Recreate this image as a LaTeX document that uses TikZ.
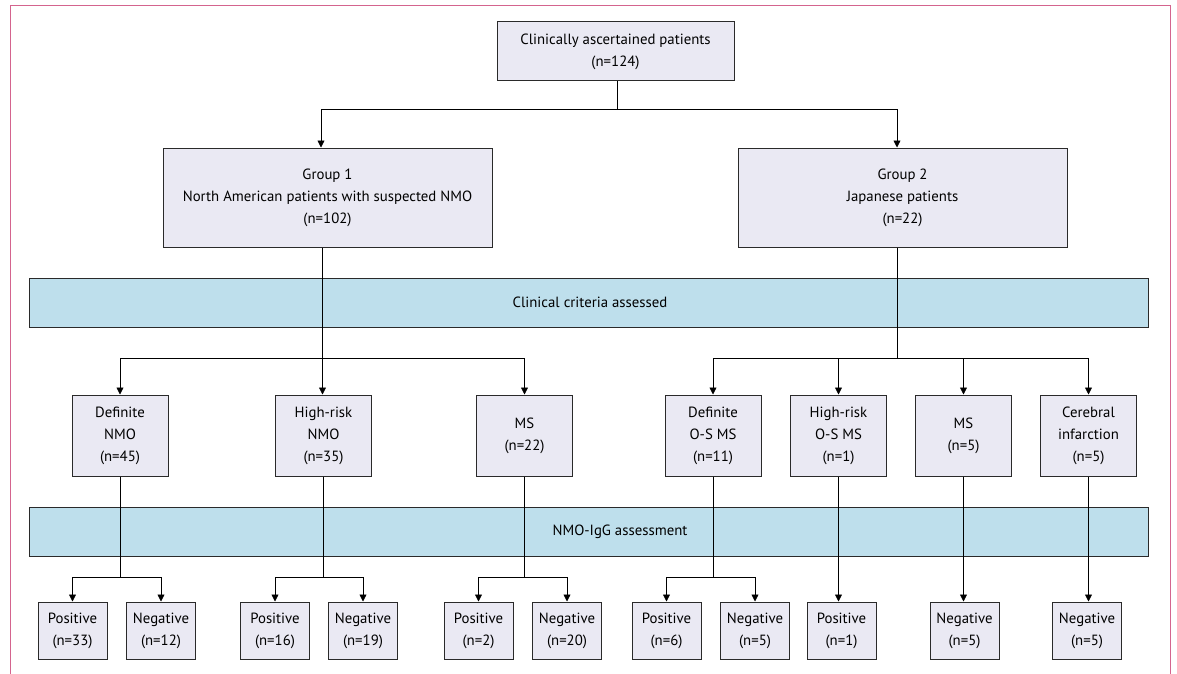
\documentclass[tikz,border=0pt]{standalone}
\usepackage{fontspec}
\setmainfont{PT Sans}
\usetikzlibrary{arrows.meta}
\definecolor{boxfill}{HTML}{EAE9F3}
\definecolor{bandfill}{HTML}{BEDFEC}
\definecolor{framecol}{HTML}{D4648E}
\definecolor{edgecol}{HTML}{2A2A2A}
\begin{document}
\begin{tikzpicture}[x=1pt,y=-1pt,
  box/.style={draw=edgecol,fill=boxfill,line width=1pt,inner sep=0pt,align=center,font=\fontsize{14.8}{22}\selectfont},
  band/.style={draw=edgecol,fill=bandfill,line width=1pt,inner sep=0pt,minimum width=1119,minimum height=49},
  conn/.style={draw=black,line width=0.8pt},
  arr/.style={conn,-{Triangle[width=7pt,length=7pt]}},
  lab/.style={font=\fontsize{14.8}{16}\selectfont,inner sep=0pt},
  gbox/.style={box,minimum width=329,minimum height=99},
  mbox/.style={box,minimum width=96,minimum height=81},
  sbox/.style={box,minimum width=69,minimum height=57}]
\useasboundingbox (0,0) rectangle (1177,674);
\draw[framecol,line width=1pt] (10,674) -- (10,6) -- (1170.5,6) -- (1170.5,674);

% bands
\node[band] (band1) at (588.5,302.5) {};
\node[lab] (band1t) at (590,302.5) {Clinical criteria assessed};
\node[band] (band2) at (588.5,531.5) {};
\node[lab] (band2t) at (620,531.5) {NMO-IgG assessment};

% top levels
\node[box,minimum width=237,minimum height=59] (top) at (615.5,51.5) {Clinically ascertained patients\\(n=124)};
\node[gbox] (g1) at (327.5,197.5) {Group 1\\North American patients with suspected NMO\\(n=102)};
\node[gbox] (g2) at (902.5,197.5) {Group 2\\Japanese patients\\(n=22)};

% middle level
\node[mbox] (dnmo) at (120,435.5) {Definite\\NMO\\(n=45)};
\node[mbox] (hnmo) at (323.5,435.5) {High-risk\\NMO\\(n=35)};
\node[mbox] (ms1) at (524.5,435.5) {MS\\(n=22)};
\node[mbox] (dos) at (713,435.5) {Definite\\O-S MS\\(n=11)};
\node[mbox] (hos) at (838.5,435.5) {High-risk\\O-S MS\\(n=1)};
\node[mbox] (ms2) at (963.5,435.5) {MS\\(n=5)};
\node[mbox] (ci) at (1088.5,435.5) {Cerebral\\infarction\\(n=5)};

% bottom level
\node[sbox] (p33) at (72.5,630.5) {Positive\\(n=33)};
\node[sbox] (n12) at (161,630.5) {Negative\\(n=12)};
\node[sbox] (p16) at (275,630.5) {Positive\\(n=16)};
\node[sbox] (n19) at (363,630.5) {Negative\\(n=19)};
\node[sbox] (p2) at (478.5,630.5) {Positive\\(n=2)};
\node[sbox] (n20) at (567,630.5) {Negative\\(n=20)};
\node[sbox] (p6) at (666.5,630.5) {Positive\\(n=6)};
\node[sbox] (n5a) at (755,630.5) {Negative\\(n=5)};
\node[sbox] (p1) at (841.5,630.5) {Positive\\(n=1)};
\node[sbox] (n5b) at (964.5,630.5) {Negative\\(n=5)};
\node[sbox] (n5c) at (1087,630.5) {Negative\\(n=5)};

% connectors
\draw[conn] ([xshift=1.5pt]top.south) -- ++(0,28) coordinate (j0);
\draw[arr] (j0) -| ([xshift=-6.5pt]g1.north);
\draw[arr] (j0) -| ([xshift=-5.5pt]g2.north);

\draw[conn] ([xshift=-5pt]g1.south) -- ++(0,111) coordinate (j1);
\draw[arr] (j1) -| (dnmo.north);
\draw[arr] (j1) -- (j1 |- hnmo.north);
\draw[arr] (j1) -| (ms1.north);

\draw[conn] ([xshift=-5pt]g2.south) -- ++(0,111) coordinate (j2);
\draw[arr] (j2) -| (dos.north);
\draw[arr] (j2) -| (hos.north);
\draw[arr] (j2) -| (ms2.north);
\draw[arr] (j2) -| (ci.north);

\draw[conn] (dnmo.south) -- ++(0,101) coordinate (k1);
\draw[arr] (k1) -| (p33.north);
\draw[arr] (k1) -| (n12.north);
\draw[conn] (hnmo.south) -- ++(0,101) coordinate (k2);
\draw[arr] (k2) -| (p16.north);
\draw[arr] (k2) -| (n19.north);
\draw[conn] (ms1.south) -- ++(0,101) coordinate (k3);
\draw[arr] (k3) -| (p2.north);
\draw[arr] (k3) -| (n20.north);
\draw[conn] (dos.south) -- ++(0,101) coordinate (k4);
\draw[arr] (k4) -| (p6.north);
\draw[arr] (k4) -| (n5a.north);
\draw[arr] (hos.south) -- (hos.south |- p1.north);
\draw[arr] (ms2.south) -- (ms2.south |- n5b.north);
\draw[arr] (ci.south) -- (ci.south |- n5c.north);
\end{tikzpicture}
\end{document}
